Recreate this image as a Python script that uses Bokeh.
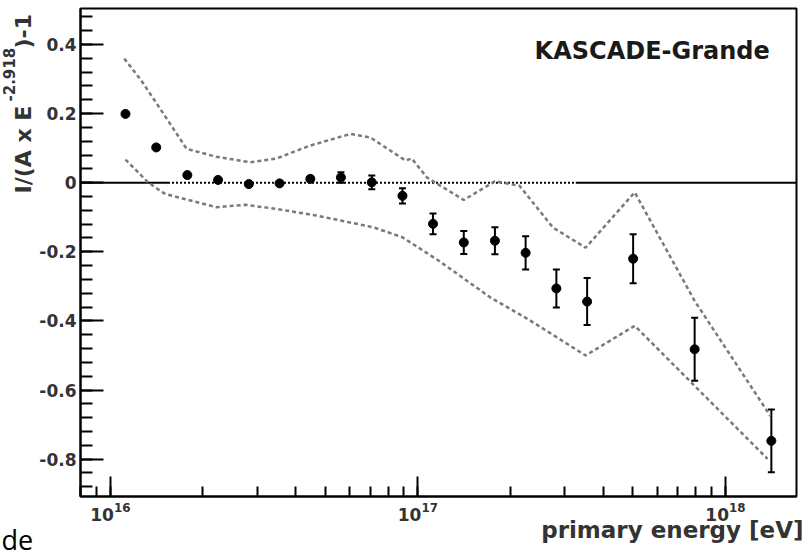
import numpy as np
from bokeh.plotting import figure
from bokeh.layouts import row
from bokeh.models import (Range1d, Whisker, TeeHead, ColumnDataSource, Label,
                          FixedTicker, LogTicker)
from bokeh.embed import file_html
from bokeh.resources import INLINE

# ---------------- data ----------------
energy = [1.12e16, 1.41e16, 1.78e16, 2.24e16, 2.82e16, 3.55e16, 4.47e16, 5.62e16,
          7.08e16, 8.91e16, 1.12e17, 1.41e17, 1.78e17, 2.24e17, 2.82e17, 3.55e17,
          5.01e17, 7.94e17, 1.41e18]
residual = [0.199, 0.102, 0.022, 0.008, -0.004, -0.002, 0.011, 0.015, 0.001, -0.038,
            -0.119, -0.173, -0.168, -0.203, -0.306, -0.344, -0.220, -0.482, -0.747]
error = [0.004, 0.004, 0.004, 0.005, 0.005, 0.006, 0.007, 0.015, 0.020, 0.022,
         0.030, 0.033, 0.039, 0.048, 0.055, 0.068, 0.071, 0.091, 0.091]

band_up_energy = [1.11e16, 1.26e16, 1.49e16, 1.77e16, 2.21e16, 2.85e16, 3.47e16, 4.45e16,
                  6.03e16, 7.00e16, 9.12e16, 9.55e16, 1.07e17, 1.41e17, 1.78e17, 2.14e17,
                  2.75e17, 3.51e17, 5.07e17, 7.94e17, 1.40e18]
band_up_value = [0.359, 0.296, 0.199, 0.098, 0.075, 0.059, 0.070, 0.107,
                 0.141, 0.131, 0.064, 0.070, 0.015, -0.050, 0.004, -0.009,
                 -0.130, -0.188, -0.028, -0.342, -0.675]

band_lo_energy = [1.12e16, 1.33e16, 1.51e16, 2.21e16, 2.75e16, 3.47e16, 4.68e16, 7.16e16,
                  8.91e16, 1.17e17, 1.72e17, 2.32e17, 3.51e17, 5.07e17, 7.82e17, 1.37e18]
band_lo_value = [0.067, 0.000, -0.033, -0.071, -0.064, -0.076, -0.095, -0.129,
                 -0.158, -0.226, -0.332, -0.399, -0.500, -0.414, -0.582, -0.799]

fit_range = [1.54e16, 3.26e17]   # energy range of the dotted (fitted) part of the zero line

y_ticks = [-0.8, -0.6, -0.4, -0.2, 0.0, 0.2, 0.4]
y_tick_labels = ["-0.8", "-0.6", "-0.4", "-0.2", "0", "0.2", "0.4"]

FONT = "DejaVu Sans"
LBL = "#333333"

# ---------------- left strip: y title and stray slide text ----------------
SW, H = 36, 558
side = figure(width=SW, height=H, output_backend="svg", toolbar_location=None, title=None,
              x_range=Range1d(0, SW), y_range=Range1d(0, H),
              x_axis_location=None, y_axis_location=None,
              min_border_left=0, min_border_right=0, min_border_top=0, min_border_bottom=0)
side.outline_line_color = None
side.xgrid.visible = False
side.ygrid.visible = False
side.background_fill_color = "white"
side.border_fill_color = "white"

def sy(cy):   # canvas px (from top) -> data y of the strip
    return H - cy

side.add_layout(Label(x=23, y=sy(193), text="I/(A x E", angle=np.pi / 2, text_font=FONT,
                      text_font_style="bold", text_font_size="22px", text_color=LBL,
                      text_align="left", text_baseline="alphabetic"))
side.add_layout(Label(x=8, y=sy(101), text="-2.918", angle=np.pi / 2, text_font=FONT,
                      text_font_style="bold", text_font_size="15px", text_color=LBL,
                      text_align="left", text_baseline="alphabetic"))
side.add_layout(Label(x=23, y=sy(48), text=")-1", angle=np.pi / 2, text_font=FONT,
                      text_font_style="bold", text_font_size="22px", text_color=LBL,
                      text_align="left", text_baseline="alphabetic"))
side.add_layout(Label(x=1, y=sy(539), text="de", text_font="Open Sans",
                      text_font_size="27px", text_color="black",
                      text_align="left", text_baseline="alphabetic"))

# ---------------- main plot ----------------
W = 804 - SW
LX0, LX1 = 15.903, 18.231        # log10 x range
Y0, Y1 = -0.908, 0.504
FL, FR, FT, FB = 43, W - 8, 8, 496  # frame in canvas px

def dx(cx):   # canvas px -> data x
    return 10 ** (LX0 + (cx - FL) / (FR - FL) * (LX1 - LX0))

def dy(cy):   # canvas px -> data y
    return Y1 - (cy - FT) / (FB - FT) * (Y1 - Y0)

p = figure(width=W, height=H, x_axis_type="log", output_backend="svg",
           toolbar_location=None, title=None,
           x_range=Range1d(10 ** LX0, 10 ** LX1), y_range=Range1d(Y0, Y1),
           min_border_left=FL, min_border_right=W - FR, min_border_top=FT,
           min_border_bottom=H - FB)
for fig in (side, p):
    if "frame_align" in fig.properties():
        fig.frame_align = False
p.background_fill_color = "white"
p.border_fill_color = "white"
p.outline_line_color = "black"
p.outline_line_width = 2
p.xgrid.visible = False
p.ygrid.visible = False

xa = p.xaxis[0]
xa.axis_label = None
xa.ticker = LogTicker(num_minor_ticks=10)
xa.major_tick_in, xa.major_tick_out = 20, 0
xa.minor_tick_in, xa.minor_tick_out = 10, 0
xa.axis_line_width = 2
xa.major_tick_line_width = 2
xa.minor_tick_line_width = 2
xa.major_label_text_font = FONT
xa.major_label_text_font_style = "bold"
xa.major_label_text_font_size = "17px"
xa.major_label_text_color = LBL
xa.major_label_standoff = 5

ya = p.yaxis[0]
ya.axis_label = None
ya.ticker = FixedTicker(ticks=y_ticks,
                        minor_ticks=list(np.round(np.arange(-0.88, 0.5, 0.04), 2)))
ya.major_label_overrides = {t: s for t, s in zip(y_ticks, y_tick_labels)}
ya.major_tick_in, ya.major_tick_out = 23, 0
ya.minor_tick_in, ya.minor_tick_out = 12, 0
ya.axis_line_width = 2
ya.major_tick_line_width = 2
ya.minor_tick_line_width = 2
ya.major_label_text_font = FONT
ya.major_label_text_font_style = "bold"
ya.major_label_text_font_size = "17px"
ya.major_label_text_color = LBL
ya.major_label_standoff = 4

# zero line: solid outside fit range, dotted inside
p.line([10 ** LX0, fit_range[0]], [0, 0], line_color="black", line_width=2)
p.line(fit_range, [0, 0], line_color="black", line_width=2, line_dash="2 2")
p.line([fit_range[1], 10 ** LX1], [0, 0], line_color="black", line_width=2)

# systematic band
p.line(band_up_energy, band_up_value, line_color="#7a7a7a", line_width=2.5, line_dash="4 3")
p.line(band_lo_energy, band_lo_value, line_color="#7a7a7a", line_width=2.5, line_dash="4 3")

# data with error bars
src = ColumnDataSource(dict(x=energy, y=residual,
                            up=[v + e for v, e in zip(residual, error)],
                            lo=[v - e for v, e in zip(residual, error)]))
wh = Whisker(base="x", upper="up", lower="lo", source=src, line_color="black", line_width=2,
             upper_head=TeeHead(size=7, line_width=2, line_color="black"),
             lower_head=TeeHead(size=7, line_width=2, line_color="black"))
p.add_layout(wh)
p.scatter("x", "y", source=src, size=9, color="black")

# texts
p.add_layout(Label(x=dx(659.5 - 8 - SW), y=dy(50), text="KASCADE-Grande", text_font=FONT,
                   text_font_style="bold", text_font_size="24px", text_color="#1a1a1a",
                   text_align="center", text_baseline="alphabetic"))
p.add_layout(Label(x=dx(FR + 7), y=dy(529), text="primary energy [eV]", text_font=FONT,
                   text_font_style="bold", text_font_size="23px", text_color=LBL,
                   text_align="right", text_baseline="alphabetic"), "below")

layout = row(side, p, spacing=0)
open("out.html", "w").write(file_html(layout, INLINE))
